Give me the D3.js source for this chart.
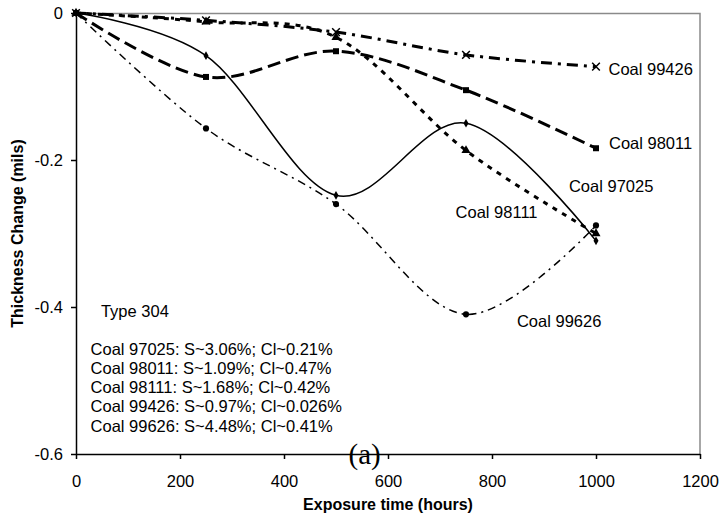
<!DOCTYPE html>
<html>
<head>
<meta charset="utf-8">
<script src="https://cdn.jsdelivr.net/npm/d3@7"></script>
<style>
  body { margin: 0; background: #fff; }
  svg text { font-family: "Liberation Sans", Arial, sans-serif; fill: #000; }
</style>
</head>
<body>
<div id="chart"></div>
<script>
// exposure time (hours)
var hours = [0, 250, 500, 750, 1000];

// thickness change (mils) per coal
var coal97025 = [0, -0.058, -0.248, -0.150, -0.310];
var coal98011 = [0, -0.087, -0.052, -0.105, -0.184];
var coal98111 = [0, -0.012, -0.033, -0.187, -0.300];
var coal99426 = [0, -0.010, -0.026, -0.057, -0.073];
var coal99626 = [0, -0.157, -0.260, -0.410, -0.289];

var seriesNames = ["Coal 97025", "Coal 98011", "Coal 98111", "Coal 99426", "Coal 99626"];

var xTicks = [0, 200, 400, 600, 800, 1000, 1200];
var yTicks = [0, -0.2, -0.4, -0.6];

var noteLines = [
  "Coal 97025: S~3.06%; Cl~0.21%",
  "Coal 98011: S~1.09%; Cl~0.47%",
  "Coal 98111: S~1.68%; Cl~0.42%",
  "Coal 99426: S~0.97%; Cl~0.026%",
  "Coal 99626: S~4.48%; Cl~0.41%"
];

var svgWidth = 723;
var svgHeight = 517;

var chartMargin = { top: 13, right: 23, bottom: 63, left: 76 };
var chartWidth = svgWidth - chartMargin.left - chartMargin.right;
var chartHeight = svgHeight - chartMargin.top - chartMargin.bottom;

var svg = d3.select("#chart")
  .append("svg")
  .attr("width", svgWidth)
  .attr("height", svgHeight);

var chartGroup = svg.append("g")
  .attr("transform", `translate(${chartMargin.left},${chartMargin.top})`);

var xScale = d3.scaleLinear().domain([0, 1200]).range([0, chartWidth]);
var yScale = d3.scaleLinear().domain([-0.6, 0]).range([chartHeight, 0]);

// grey frame on top and right
chartGroup.append("path")
  .attr("d", `M0,0.5H${chartWidth}V${chartHeight}`)
  .attr("fill", "none")
  .attr("stroke", "#8a8a8a")
  .attr("stroke-width", 1.5);

var bottomAxis = d3.axisBottom(xScale).tickValues(xTicks).tickSize(5).tickSizeOuter(0)
  .tickFormat(d3.format("d"));
var leftAxis = d3.axisLeft(yScale).tickValues(yTicks).tickSize(5).tickSizeOuter(0)
  .tickFormat(d => d === 0 ? "0" : d3.format(".1f")(d).replace("−", "-"));

var gx = chartGroup.append("g")
  .attr("transform", `translate(0,${chartHeight})`)
  .call(bottomAxis);
var gy = chartGroup.append("g").call(leftAxis);

[gx, gy].forEach(function(g) {
  g.selectAll("path, line").attr("stroke", "#000").attr("stroke-width", 1.5);
  g.selectAll("text").style("font-size", "16.5px").attr("fill", "#000");
});
gx.selectAll("text").attr("dy", "1.5em");
gy.selectAll("text").attr("x", -13).attr("dy", "0.36em");

var styles = [
  { data: coal97025, width: 1.5, dash: null, marker: "diamond" },
  { data: coal98011, width: 3, dash: "13,6", marker: "square" },
  { data: coal98111, width: 3, dash: "5,6", marker: "triangle" },
  { data: coal99426, width: 3, dash: "11,6,3,6", marker: "cross" },
  { data: coal99626, width: 1.5, dash: "8,5,2,5", marker: "circle" }
];

var line = d3.line()
  .x(d => xScale(d[0]))
  .y(d => yScale(d[1]))
  .curve(d3.curveCardinal.tension(0));

var symbols = {
  diamond: d3.symbol().type(d3.symbolDiamond).size(22),
  square: d3.symbol().type(d3.symbolSquare).size(36),
  triangle: d3.symbol().type(d3.symbolTriangle).size(36),
  cross: d3.symbol().type(d3.symbolX).size(40),
  circle: d3.symbol().type(d3.symbolCircle).size(30)
};

styles.forEach(function(s) {
  var pts = hours.map((h, i) => [h, s.data[i]]);
  chartGroup.append("path")
    .datum(pts)
    .attr("d", line)
    .attr("fill", "none")
    .attr("stroke", "#000")
    .attr("stroke-width", s.width)
    .attr("stroke-dasharray", s.dash);

  chartGroup.append("g").selectAll("path")
    .data(pts)
    .enter()
    .append("path")
    .attr("transform", d => `translate(${xScale(d[0])},${yScale(d[1])})`)
    .attr("d", symbols[s.marker]())
    .attr("fill", "#000")
    .attr("stroke", "#000")
    .attr("stroke-width", s.marker === "cross" ? 1.5 : 0);
});

// series labels (placed in data units)
var labelSpots = [
  [948, -0.243],
  [1025, -0.185],
  [730, -0.279],
  [1024, -0.084],
  [848, -0.427]
];
chartGroup.append("g").selectAll("text")
  .data(seriesNames)
  .enter()
  .append("text")
  .attr("x", (d, i) => xScale(labelSpots[i][0]))
  .attr("y", (d, i) => yScale(labelSpots[i][1]))
  .style("font-size", "16.5px")
  .text(d => d);

chartGroup.append("text")
  .attr("x", xScale(48))
  .attr("y", yScale(-0.413))
  .style("font-size", "16.5px")
  .text("Type 304");

chartGroup.append("g").selectAll("text")
  .data(noteLines)
  .enter()
  .append("text")
  .attr("x", xScale(28))
  .attr("y", (d, i) => yScale(-0.465) + i * 19.2)
  .style("font-size", "16.5px")
  .text(d => d);

chartGroup.append("text")
  .attr("x", xScale(555))
  .attr("y", chartHeight + 10)
  .attr("text-anchor", "middle")
  .style("font-family", "'Liberation Serif', 'Times New Roman', serif")
  .style("font-size", "29px")
  .text("(a)");

chartGroup.append("text")
  .attr("x", xScale(600))
  .attr("y", chartHeight + 56)
  .attr("text-anchor", "middle")
  .style("font-size", "16px")
  .style("font-weight", "bold")
  .text("Exposure time (hours)");

chartGroup.append("text")
  .attr("transform", "rotate(-90)")
  .attr("x", -chartHeight / 2)
  .attr("y", -53)
  .attr("text-anchor", "middle")
  .style("font-size", "16px")
  .style("font-weight", "bold")
  .text("Thickness Change (mils)");
</script>
</body>
</html>
